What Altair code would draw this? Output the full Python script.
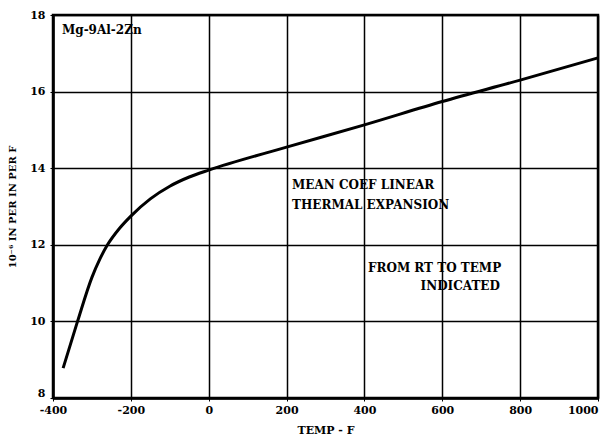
import altair as alt
import pandas as pd

temp_f = [-374, -337, -300, -280, -260, -230, -200, -150, -100, -50, 0, 200, 400, 600, 800, 1000]
coef = [8.78, 10.0, 11.15, 11.62, 12.0, 12.42, 12.75, 13.2, 13.53, 13.77, 13.95, 14.55, 15.13, 15.74, 16.3, 16.88]

x_ticks = [-400, -200, 0, 200, 400, 600, 800, 1000]
y_ticks = [8, 10, 12, 14, 16, 18]

notes = ["Mg-9Al-2Zn", "MEAN COEF LINEAR", "THERMAL EXPANSION", "FROM RT TO TEMP", "INDICATED"]
note_x = [-377, 214, 214, 409, 748]
note_y = [17.6, 13.55, 13.05, 11.4, 10.93]
note_align = ["left", "left", "left", "left", "right"]

df = pd.DataFrame({"t": temp_f, "c": coef})
nd = pd.DataFrame({"text": notes, "x": note_x, "y": note_y, "align": note_align})

FONT = "DejaVu Serif"

xs = alt.Scale(domain=[-400, 1000], nice=False, zero=False)
ys = alt.Scale(domain=[8, 18], nice=False, zero=False)

line = alt.Chart(df).mark_line(color="black", strokeWidth=3, interpolate="monotone").encode(
    x=alt.X("t:Q", scale=xs, title="TEMP - F",
            axis=alt.Axis(values=x_ticks, grid=True, gridColor="black", gridWidth=1.5, gridOpacity=1,
                          domainColor="black", domainWidth=2.5, tickSize=3, tickColor="black",
                          labelExpr="'' + datum.value",
                          labelAlign={"condition": {"test": "datum.value == 1000", "value": "right"}, "value": "center"},
                          labelFont=FONT, labelFontWeight="bold", labelFontSize=11, labelColor="black",
                          labelPadding=3, titleFont=FONT, titleFontWeight="bold", titleFontSize=11,
                          titleColor="black", titlePadding=9, labelFlush=False)),
    y=alt.Y("c:Q", scale=ys, title="10⁻⁶ IN PER IN PER F",
            axis=alt.Axis(values=y_ticks, grid=True, gridColor="black", gridWidth=1.5, gridOpacity=1,
                          domainColor="black", domainWidth=2.5, tickSize=3, tickColor="black",
                          labelExpr="'' + datum.value",
                          labelBaseline={"condition": {"test": "datum.value == 8", "value": "bottom"}, "value": "middle"},
                          labelFont=FONT, labelFontWeight="bold", labelFontSize=11, labelColor="black",
                          labelPadding=5, titleFont=FONT, titleFontWeight="bold", titleFontSize=10,
                          titleColor="black", titlePadding=12, labelFlush=False)),
)

left_txt = alt.Chart(nd[nd["align"] == "left"]).mark_text(
    align="left", baseline="middle", font=FONT, fontWeight="bold", fontSize=12, color="black"
).encode(x=alt.X("x:Q", scale=xs), y=alt.Y("y:Q", scale=ys), text="text:N")

right_txt = alt.Chart(nd[nd["align"] == "right"]).mark_text(
    align="right", baseline="middle", font=FONT, fontWeight="bold", fontSize=12, color="black"
).encode(x=alt.X("x:Q", scale=xs), y=alt.Y("y:Q", scale=ys), text="text:N")

chart = alt.layer(line, left_txt, right_txt).properties(
    width=545, height=383,
    autosize=alt.AutoSizeParams(type="none"),
    padding={"left": 53, "top": 15, "right": 8, "bottom": 37},
    background="white",
).configure_view(stroke="black", strokeWidth=2.5)

chart.save("out.html", embed_options={"renderer": "svg", "actions": False})
